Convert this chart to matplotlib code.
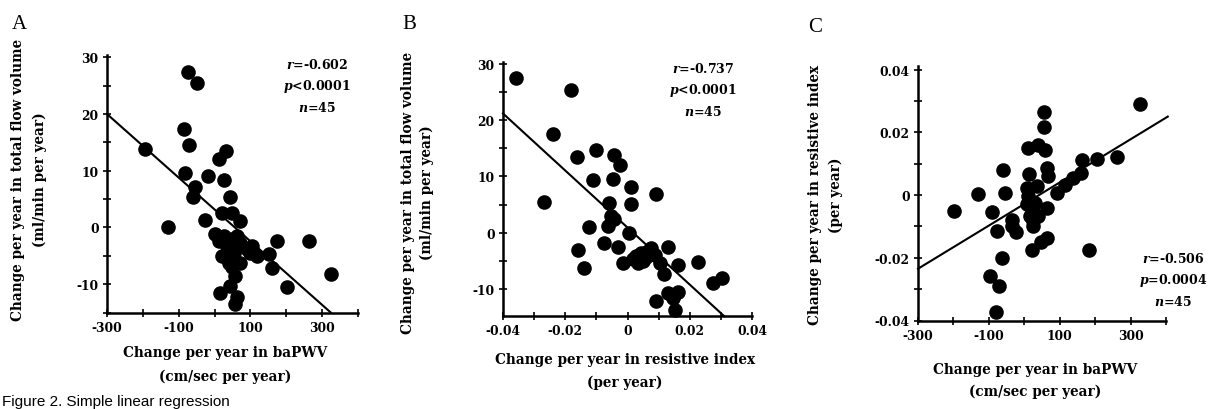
import numpy as np
import matplotlib
matplotlib.use("Agg")
import matplotlib.pyplot as plt

plt.rcParams['font.family'] = ['DejaVu Serif']
plt.rcParams['font.weight'] = 'bold'
plt.rcParams['mathtext.fontset'] = 'custom'
plt.rcParams['mathtext.it'] = 'DejaVu Serif:italic:bold'
plt.rcParams['mathtext.rm'] = 'DejaVu Serif:bold'

# panel A: change in baPWV vs change in total flow volume
a_x = [-73, -50, -85, -70, -193, 32, 11, -82, -17, 25, -54, -59, 42, -129, -28,
       20, 48, 72, 25, 48, 72, 90, 20, 53, 118, 151, 174, 263, 160, 326,
       58, 202, 16, 44, 62, 58, 34, 62, 39, 11, 100, 48, 104, 2, 72]
a_y = [27.5, 25.4, 17.4, 14.5, 13.9, 13.4, 12.1, 9.6, 9.1, 8.4, 7.2, 5.3, 5.3, 0.0, 1.3,
       2.6, 2.6, 1.1, -1.5, -2.1, -2.7, -3.8, -5.1, -4.5, -5.0, -4.6, -2.4, -2.4, -7.2, -8.2,
       -8.6, -10.5, -11.5, -10.4, -12.3, -13.5, -3.3, -1.5, -6.3, -2.4, -4.5, -6.9, -3.3, -1.2, -6.3]

# panel B: change in resistive index vs change in total flow volume
b_x = [-0.0358, -0.0180, -0.0240, -0.0163, -0.0101, -0.0042, -0.0023, -0.0110, -0.0047,
       0.0012, 0.0093, -0.0268, -0.0060, 0.0012, -0.0053, -0.0064, -0.0123, 0.0006,
       -0.0074, -0.0031, -0.0158, -0.0139, -0.0015, 0.0017, 0.0044, 0.0077, 0.0060,
       0.0033, 0.0087, 0.0130, 0.0163, 0.0118, 0.0227, 0.0276, 0.0305, 0.0093, 0.0130,
       0.0163, 0.0152, 0.0066, 0.0050, 0.0028, 0.0104, -0.0042, 0.0147]
b_y = [27.5, 25.4, 17.5, 13.5, 14.7, 13.8, 12.1, 9.3, 9.6, 8.2, 6.9, 5.4, 5.3, 5.1, 3.0,
       1.2, 1.1, -0.1, -1.8, -2.5, -3.0, -6.2, -5.3, -4.6, -3.6, -2.7, -4.4, -5.3, -3.9,
       -2.5, -5.8, -7.4, -5.2, -8.9, -8.1, -12.2, -10.7, -10.5, -13.7, -3.3, -5.0, -4.1,
       -5.3, 2.4, -11.6]

# panel C: change in baPWV vs change in resistive index
c_x = [328, 57, 57, 11, 40, 58, -61, 14, 63, 162, 204, 263, 160, 115, 91, -130, -54,
       -198, -92, 11, 63, 21, 26, -36, -23, -76, 35, 16, 63, 47, 23, 183, -64, -97,
       -70, -80, 30, 7, 68, 26, 7, 138, -36, 16, 40]
c_y = [0.0289, 0.0264, 0.0216, 0.0150, 0.0161, 0.0143, 0.0081, 0.0067, 0.0087, 0.0113,
       0.0115, 0.0120, 0.0071, 0.0033, 0.0007, 0.0004, 0.0007, -0.0052, -0.0055, -0.0004,
       -0.0041, -0.0046, -0.0084, -0.0078, -0.0119, -0.0115, 0.0028, -0.0068, -0.0137,
       -0.0150, -0.0176, -0.0174, -0.0200, -0.0257, -0.0289, -0.0374, -0.0025, -0.0030,
       0.0060, -0.0100, 0.0023, 0.0055, -0.0100, -0.0025, -0.0068]

# regression lines (intercept, slope, x start, x end)
a_fit = (3.17, -0.0561, -300, 324)
b_fit = (0.92, -507.0, -0.04, 0.0310)
c_fit = (-0.00286, 6.88e-5, -300, 405)

a_stats = "$r$=-0.602\n$p$<0.0001\n$n$=45"
b_stats = "$r$=-0.737\n$p$<0.0001\n$n$=45"
c_stats = "$r$=-0.506\n$p$=0.0004\n$n$=45"

W, H = 1223, 410
fig = plt.figure(figsize=(W / 100, H / 100), dpi=100)


def box(l, r, t, b):
    return [l / W, 1 - b / H, (r - l) / W, (b - t) / H]


def ftext(x, y, s, **kw):
    fig.text(x / W, 1 - y / H, s, **kw)


def style(ax):
    for side in ['top', 'right']:
        ax.spines[side].set_visible(False)
    for side in ['left', 'bottom']:
        ax.spines[side].set_linewidth(1.8)
    ax.tick_params(direction='inout', length=6, width=1.2, labelsize=8.8, pad=3)


def draw(ax, xs, ys, fit):
    ax.scatter(xs, ys, s=90, color='black', zorder=3, clip_on=False)
    b0, b1, x0, x1 = fit
    lx = np.array([x0, x1])
    ax.plot(lx, b0 + b1 * lx, color='black', lw=1.5, clip_on=False)


def ticklabels(vals, shown, fmt):
    return [fmt(v) if any(abs(v - s) < 1e-9 for s in shown) else '' for v in vals]


# A
axA = fig.add_axes(box(107, 358, 55.5, 313.5))
draw(axA, a_x, a_y, a_fit)
axA.set_xlim(-300, 400)
axA.set_ylim(-15, 30.5)
xt = list(range(-300, 401, 100))
axA.set_xticks(xt)
axA.set_xticklabels(ticklabels(xt, [-300, -100, 100, 300], lambda v: '%d' % v))
yt = list(range(-15, 31, 5))
axA.set_yticks(yt)
axA.set_yticklabels(ticklabels(yt, [-10, 0, 10, 20, 30], lambda v: '%d' % v))
style(axA)

# B
axB = fig.add_axes(box(503, 752, 63.3, 317))
draw(axB, b_x, b_y, b_fit)
axB.set_xlim(-0.04, 0.04)
axB.set_ylim(-14.8, 30.3)
xt = list(np.round(np.arange(-0.04, 0.0401, 0.01), 2))
axB.set_xticks(xt)
axB.set_xticklabels(ticklabels(xt, [-0.04, -0.02, 0, 0.02, 0.04],
                               lambda v: '0' if v == 0 else '%.2f' % v))
yt = list(range(-10, 31, 5))
axB.set_yticks(yt)
axB.set_yticklabels(ticklabels(yt, [-10, 0, 10, 20, 30], lambda v: '%d' % v))
style(axB)

# C
axC = fig.add_axes(box(918, 1166, 66.5, 321.5))
draw(axC, c_x, c_y, c_fit)
axC.set_xlim(-300, 400)
axC.set_ylim(-0.04, 0.0413)
xt = list(range(-300, 401, 100))
axC.set_xticks(xt)
axC.set_xticklabels(ticklabels(xt, [-300, -100, 100, 300], lambda v: '%d' % v))
yt = list(np.round(np.arange(-0.04, 0.0401, 0.01), 2))
axC.set_yticks(yt)
axC.set_yticklabels(ticklabels(yt, [-0.04, -0.02, 0, 0.02, 0.04],
                               lambda v: '0' if v == 0 else '%.2f' % v))
style(axC)

# stats boxes
kw = dict(fontsize=9, ha='center', va='top', linespacing=1.5)
ftext(317, 58, a_stats, **kw)
ftext(703, 62, b_stats, **kw)
ftext(1173, 252, c_stats, **kw)

# panel letters
lkw = dict(fontsize=15, family='Liberation Serif', weight='normal', va='baseline')
ftext(12, 29, 'A', **lkw)
ftext(402, 29, 'B', **lkw)
ftext(808, 32, 'C', **lkw)

# axis labels
xl = dict(fontsize=9.8, ha='center', va='center')
ftext(225, 353, 'Change per year in baPWV', **xl)
ftext(225, 377, '(cm/sec per year)', **xl)
ftext(625, 360, 'Change per year in resistive index', **xl)
ftext(625, 383, '(per year)', **xl)
ftext(1035, 370, 'Change per year in baPWV', **xl)
ftext(1035, 392, '(cm/sec per year)', **xl)

yl = dict(fontsize=9.8, ha='center', va='center', rotation=90)
ftext(18, 180, 'Change per year in total flow volume', **yl)
ftext(40, 180, '(ml/min per year)', **yl)
ftext(408, 193, 'Change per year in total flow volume', **yl)
ftext(427, 193, '(ml/min per year)', **yl)
ftext(815, 195, 'Change per year in resistive index', **yl)
ftext(836, 195, '(per year)', **yl)

ftext(2, 409, 'Figure 2. Simple linear regression', fontsize=11,
      family='Liberation Sans', weight='normal', va='bottom')

fig.savefig('out.png', dpi=100)
